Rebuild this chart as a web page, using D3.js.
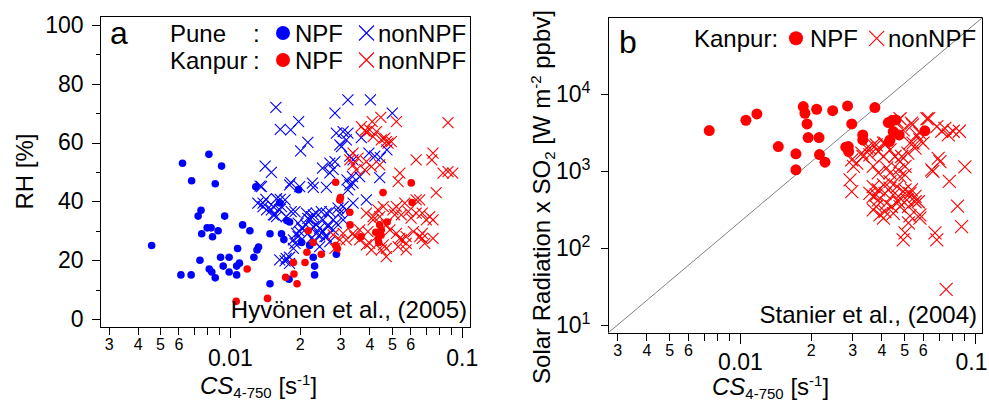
<!DOCTYPE html>
<html lang="en">
<head>
<meta charset="UTF-8">
<script src="https://cdn.jsdelivr.net/npm/d3@7"></script>
<style>
    body { margin: 0; background: #fff; }
    svg text { font-family: "Liberation Sans", Arial, sans-serif; fill: #000; }
    .axis line { stroke: #000; shape-rendering: crispEdges; }
    .axis path { display: none; }
    .frame { fill: none; stroke: #000; shape-rendering: crispEdges; }
</style>
</head>
<body>
<svg id="chart" width="989" height="403"></svg>
<script>
// ---- data: [CS (s-1), value] ----
// panel a, Pune
var puneNPF = [[0.0046,25],[0.00615,15],[0.00681,15],[0.00625,53],[0.00684,47],[0.00812,56],[0.00921,52],[0.00865,46],
    [0.0073,35],[0.00751,37],[0.00756,29],[0.00743,20],[0.00798,31],[0.0083,31],[0.00842,28],[0.0089,30],[0.0095,35],
    [0.00815,17],[0.00836,16],[0.00865,14],[0.00912,21],[0.00936,18],[0.00993,21],[0.00993,16],[0.0107,18],[0.011,19],
    [0.0108,24],[0.0107,15],[0.01135,32],[0.0122,30],[0.0127,21],[0.0131,23.5],[0.0133,24.5],[0.01294,45],[0.0149,29],
    [0.0149,12],[0.0164,39.5],[0.0167,29],[0.0171,27],[0.0176,33.5],[0.0181,33],[0.018,13.5],[0.0198,44],[0.0204,26],
    [0.0229,21],[0.0232,18],[0.0232,15],[0.0288,22],[0.0221,25]];
var puneNonNPF = [[0.0158,72],[0.0165,64.5],[0.0183,64.3],[0.0198,67.1],[0.0202,57.2],[0.0217,60.1],[0.0142,52],[0.0151,49.9],
    [0.0137,45],[0.0183,46.4],[0.0229,44.8],[0.0261,44.8],[0.0251,51.3],[0.027,53],[0.0279,50.9],[0.0284,70],[0.0323,74.5],
    [0.0404,74.5],[0.0502,70],[0.0323,63.2],[0.0318,60.9],[0.0303,58.6],[0.0329,55.4],[0.0369,61.7],[0.0398,56.4],
    [0.0422,55.4],[0.0446,54.9],[0.0476,57.5],[0.0443,48.1],[0.0338,48.4],[0.032,47.3],[0.0329,45.6],[0.0323,43.9],
    [0.0388,40.5],[0.0143,40.7],[0.0159,40.9],[0.0165,40.7],[0.0139,39.4],[0.0151,37.1],[0.0156,35.4],[0.0167,38.2],
    [0.0173,40.5],[0.0173,19.8],[0.0181,21],[0.0188,26.9],[0.0194,29.1],[0.0204,30.9],[0.0213,32],[0.0221,33.7],
    [0.0229,35.4],[0.0236,36],[0.0217,29.1],[0.0225,27.4],[0.0236,29.1],[0.0244,30.9],[0.0252,29.7],[0.0257,28],
    [0.0265,32],[0.0279,33.7],[0.0288,32.6],[0.0298,36],[0.0308,38.2],[0.0318,37.1],[0.034,39.4],[0.0244,24.6],
    [0.0232,26.3],[0.0279,30.3],[0.0181,45.6],[0.0227,46.2],[0.027,49.7],[0.034,46.2],[0.0144,37.1],[0.0154,38.2],
    [0.0164,37.1],[0.0154,35.4],[0.0191,36.5],[0.0214,36],[0.0225,34.8],[0.0261,36],[0.0252,33.7],[0.0236,32],
    [0.0197,32.6],[0.02,29.7],[0.0175,20.6],[0.0181,18.9],[0.027,26.3],[0.0308,33.7],[0.0135,45.2],[0.0132,39.4],
    [0.0139,38.2],[0.0159,34.8],[0.0175,34.8],[0.0191,25.7],[0.0188,24],[0.0197,28],[0.0288,63.2],[0.0308,63.7],
    [0.0298,59.2],[0.0284,53.5],[0.034,54.1],[0.0363,48.4],[0.02,45],[0.0184,36.5],[0.0217,34.2],[0.0248,36.5],
    [0.027,36.5],[0.0293,37.7],[0.0229,31.4],[0.0265,31.4],[0.0244,28.6],[0.0261,28],[0.0164,20.1]];
// panel a, Kanpur
var kanpurNPF_RH = [[0.01188,17],[0.01065,6],[0.01454,7],[0.0174,14.2],[0.0188,19.2],[0.0189,15.3],[0.0195,12],[0.0218,30],
    [0.0215,22.7],[0.0211,19.2],[0.0229,26],[0.0248,22],[0.0286,25],[0.0291,24],[0.0298,40.5],[0.0329,36.3],[0.033,32],
    [0.0426,29.5],[0.0436,27.2],[0.045,30.3],[0.0477,33],[0.0611,39.6],[0.0286,46.5],[0.03,41.3],[0.0458,43],
    [0.0606,46.3],[0.0449,28.5],[0.0443,32],[0.0368,28],[0.0439,26]];
var kanpurNonNPF_RH = [[0.0411,67.1],[0.0448,68.6],[0.0523,67.1],[0.0873,66.8],[0.0382,64],[0.0401,64.3],[0.0415,62],
    [0.0429,63.7],[0.0466,61.5],[0.0481,59.8],[0.0497,60.3],[0.0369,65.4],[0.0388,63.7],[0.045,60.9],[0.0473,60.3],
    [0.034,56.4],[0.0357,54.7],[0.0388,53.5],[0.034,52.4],[0.0329,54.1],[0.0382,50.7],[0.0408,51.8],[0.0443,52.4],
    [0.0351,50.7],[0.0541,49.6],[0.0532,46.7],[0.0636,54.1],[0.0752,56.4],[0.0743,54.1],[0.0831,49.6],[0.0873,50.1],
    [0.0915,49.6],[0.0776,43],[0.0659,40.5],[0.0704,33.7],[0.0523,38.2],[0.0549,35.4],[0.0588,36.5],[0.0605,34.3],
    [0.0636,36],[0.0388,36],[0.0415,34.8],[0.0435,37.1],[0.0308,29.1],[0.0318,26.9],[0.0346,28],[0.0363,30.3],
    [0.0394,29.7],[0.049,30.3],[0.0523,29.1],[0.0549,26.9],[0.0576,28],[0.0619,29.7],[0.0659,28],[0.0693,25.7],
    [0.0401,25.7],[0.0459,25.2],[0.0473,24],[0.034,29.1],[0.0415,33.7],[0.0443,34.8],[0.0473,32],[0.0541,27.4],
    [0.0576,25.7],[0.0568,39.4],[0.0636,40.5],[0.0676,36],[0.0728,34.8],[0.0752,33.7],[0.0676,29.1],[0.0473,21.2],
    [0.045,23.5],[0.0408,23.5],[0.0363,26.9],[0.0576,23.5],[0.0532,24.6],[0.0752,27.4],[0.0676,27.4],[0.0388,25.2],
    [0.0514,35.4],[0.0505,37.1],[0.0459,38.2],[0.0298,26.9],[0.0279,28.6],[0.0284,24]];
// panel b, Kanpur: solar radiation x SO2 (W m-2 ppbv)
var kanpurNPF_SR = [[0.0074,3370],[0.0106,4590],[0.0118,5550],[0.01456,2090],[0.0173,1680],[0.0173,1040],[0.0186,6900],
    [0.0189,5660],[0.0193,4110],[0.0195,2730],[0.0212,6380],[0.0217,2730],[0.0218,1640],[0.023,1310],[0.0248,6120],
    [0.0287,7050],[0.0299,4110],[0.0282,2050],[0.0289,2090],[0.029,1800],[0.0333,2960],[0.0333,2550],[0.0375,6700],
    [0.0428,4280],[0.0461,4640],[0.0449,3270],[0.0476,2960],[0.0432,2420],[0.0612,3340],[0.0444,4550],[0.0435,2550]];
var kanpurNonNPF_SR = [[0.048,4800],[0.0495,3440],[0.0542,3990],[0.0583,3120],[0.0625,4800],[0.0688,3800],[0.0722,3300],
    [0.077,2960],[0.0808,3300],[0.0858,3300],[0.0529,2310],[0.0556,1990],[0.0488,1550],[0.0518,1710],[0.071,1330],
    [0.0662,990],[0.0778,735],[0.0906,1140],[0.0408,2310],[0.038,2200],[0.0357,1990],[0.0334,1550],[0.0314,1270],
    [0.0299,1400],[0.0435,1890],[0.0457,1550],[0.0408,1550],[0.0369,1150],[0.0388,950],[0.0421,1100],[0.0435,950],
    [0.0472,1040],[0.0504,1150],[0.0294,771],[0.0299,540],[0.0357,515],[0.038,492],[0.0408,664],[0.0435,730],
    [0.0466,630],[0.0495,545],[0.0529,515],[0.033,1720],[0.0346,1990],[0.0369,2200],[0.0304,1150],[0.0357,1630],
    [0.0388,1800],[0.0414,2310],[0.048,1330],[0.048,850],[0.0504,896],[0.0466,4400],[0.0537,4200],[0.0565,2960],
    [0.0583,2550],[0.0545,2310],[0.0601,2310],[0.0635,4830],[0.0745,3600],[0.0697,1470],[0.0655,1040],[0.0843,350],
    [0.0369,630],[0.0388,572],[0.0369,470],[0.0388,424],[0.0414,515],[0.0435,600],[0.0449,492],[0.048,445],
    [0.0504,572],[0.0513,424],[0.0537,572],[0.0556,470],[0.0574,400],[0.0521,345],[0.048,345],[0.0421,385],
    [0.0369,314],[0.0394,270],[0.0414,297],[0.0449,282],[0.0442,345],[0.0529,263],[0.0583,270],[0.038,345],
    [0.0408,245],[0.0472,400],[0.0556,400],[0.0504,158],[0.0495,128],[0.0521,212],[0.0583,245],[0.0676,158],
    [0.0688,128],[0.0877,190],[0.0754,29]];

// ticks
var csMinorTicks = [0.003, 0.004, 0.005, 0.006, 0.007, 0.008, 0.009, 0.02, 0.03, 0.04, 0.05, 0.06, 0.07, 0.08, 0.09];
var csLabelled = [0.003, 0.004, 0.005, 0.006, 0.02, 0.03, 0.04, 0.05, 0.06];
var csMajorTicks = [0.01, 0.1];
var rhTicks = [0, 20, 40, 60, 80, 100];
var rhMinorTicks = [10, 30, 50, 70, 90];
var srTicks = [10, 100, 1000, 10000];
// reference line in panel b
var refLineCS = [0.00275, 0.108];
var refLineSR = [7.9, 1.0e5];

var svg = d3.select("#chart");

// scales
var xA = d3.scaleLog().domain([0.002754, 0.1086]).range([100, 470]);
var yA = d3.scaleLinear().domain([-2.72, 103.06]).range([327, 16]);
var xB = d3.scaleLog().domain([0.002744, 0.1082]).range([608, 983]);
var yB = d3.scaleLog().domain([7.87, 1.009e5]).range([333, 17]);

function minorLabel(v) {
    var hit = csLabelled.some(function(t) { return Math.abs(t - v) < 1e-9; });
    if (!hit) return "";
    return String(Math.round(v / Math.pow(10, Math.floor(Math.log10(v) + 1e-9))));
}

// x axis (log CS) under a panel
function drawCSAxis(x, y0, lastShift, pad) {
    var gMinor = svg.append("g").attr("class", "axis")
        .attr("transform", "translate(0," + y0 + ")")
        .call(d3.axisBottom(x).tickValues(csMinorTicks).tickSize(7).tickPadding(4).tickFormat(minorLabel));
    gMinor.selectAll("text").style("font-size", "16px");
    var gMajor = svg.append("g").attr("class", "axis")
        .attr("transform", "translate(0," + y0 + ")")
        .call(d3.axisBottom(x).tickValues(csMajorTicks).tickSize(10).tickPadding(pad).tickFormat(function(d) { return String(d); }));
    gMajor.selectAll("text").style("font-size", "23px")
        .attr("dx", function(d) { return d === 0.1 ? lastShift : 0; });
}

// x title with italic CS, subscript and superscript
function drawCSTitle(xPos, yPos) {
    var t = svg.append("text").attr("x", xPos).attr("y", yPos).style("font-size", "24px");
    t.append("tspan").style("font-style", "italic").text("CS");
    t.append("tspan").style("font-size", "15px").attr("dy", 4).text("4-750");
    t.append("tspan").attr("dy", -4).text(" [s");
    t.append("tspan").style("font-size", "15px").attr("dy", -9).text("-1");
    t.append("tspan").attr("dy", 9).text("]");
}

function crossPath(h) {
    return "M" + (-h) + "," + (-h) + "L" + h + "," + h + "M" + (-h) + "," + h + "L" + h + "," + (-h);
}

function drawCrosses(data, x, y, color, h) {
    svg.append("g").selectAll("path")
        .data(data).enter().append("path")
        .attr("d", crossPath(h))
        .attr("transform", function(d) { return "translate(" + x(d[0]) + "," + y(d[1]) + ")"; })
        .attr("fill", "none")
        .attr("stroke", color)
        .attr("stroke-width", 1.1);
}

function drawDots(data, x, y, color, r) {
    svg.append("g").selectAll("circle")
        .data(data).enter().append("circle")
        .attr("cx", function(d) { return x(d[0]); })
        .attr("cy", function(d) { return y(d[1]); })
        .attr("r", r)
        .attr("fill", color);
}

// ================= panel a =================
svg.append("rect").attr("class", "frame")
    .attr("x", 100.5).attr("y", 16.5).attr("width", 370).attr("height", 311);

var gyA = svg.append("g").attr("class", "axis").attr("transform", "translate(100.5,0)")
    .call(d3.axisLeft(yA).tickValues(rhTicks).tickSize(9).tickPadding(8));
gyA.selectAll("text").style("font-size", "23px");
svg.append("g").attr("class", "axis").attr("transform", "translate(100.5,0)")
    .call(d3.axisLeft(yA).tickValues(rhMinorTicks).tickSize(5).tickFormat(""));

drawCSAxis(xA, 327.5, 0, 12);
drawCSTitle(200, 394);

svg.append("text").attr("transform", "translate(33," + ((16 + 327) / 2) + ") rotate(-90)")
    .attr("text-anchor", "middle").style("font-size", "24px").text("RH [%]");

drawCrosses(puneNonNPF, xA, yA, "#0000ff", 5.5);
drawDots(puneNPF, xA, yA, "#0000ff", 3.8);
drawCrosses(kanpurNonNPF_RH, xA, yA, "#ff0000", 5.5);
drawDots(kanpurNPF_RH, xA, yA, "#ff0000", 3.8);

// panel a labels and legend
svg.append("text").attr("x", 110).attr("y", 44).style("font-size", "32px").text("a");
svg.append("text").attr("x", 467).attr("y", 318).attr("text-anchor", "end")
    .style("font-size", "24px").text("Hyvönen et al., (2005)");

var legA = [
    { site: "Pune", color: "#0000ff", y: 33 },
    { site: "Kanpur", color: "#ff0000", y: 60 }
];
legA.forEach(function(l) {
    svg.append("text").attr("x", 170).attr("y", l.y + 8.5).style("font-size", "24px").text(l.site);
    svg.append("text").attr("x", 253).attr("y", l.y + 8.5).style("font-size", "24px").text(":");
    svg.append("circle").attr("cx", 283).attr("cy", l.y).attr("r", 7).attr("fill", l.color);
    svg.append("text").attr("x", 295).attr("y", l.y + 8.5).style("font-size", "24px").text("NPF");
    svg.append("path").attr("d", crossPath(7.5)).attr("transform", "translate(366.5," + l.y + ")")
        .attr("fill", "none").attr("stroke", l.color).attr("stroke-width", 1.1);
    svg.append("text").attr("x", 378).attr("y", l.y + 8.5).style("font-size", "24px").text("nonNPF");
});

// ================= panel b =================
svg.append("rect").attr("class", "frame")
    .attr("x", 608.5).attr("y", 17.5).attr("width", 374).attr("height", 316);

var gyB = svg.append("g").attr("class", "axis").attr("transform", "translate(608.5,0)")
    .call(d3.axisLeft(yB).tickValues(srTicks).tickSize(8).tickPadding(10).tickFormat(""));
gyB.selectAll(".tick text").each(function(d) {
    var t = d3.select(this).style("font-size", "23px").attr("dy", "0.32em");
    t.append("tspan").text("10");
    t.append("tspan").style("font-size", "16px").attr("dy", -9).text(Math.round(Math.log10(d)));
});

drawCSAxis(xB, 333.5, -4, 10);
drawCSTitle(712, 395);

var yTitleB = svg.append("text").attr("transform", "translate(550,197) rotate(-90)")
    .attr("text-anchor", "middle").style("font-size", "24px");
yTitleB.append("tspan").text("Solar Radiation x SO");
yTitleB.append("tspan").style("font-size", "15px").attr("dy", 5).text("2");
yTitleB.append("tspan").attr("dy", -5).text(" [W m");
yTitleB.append("tspan").style("font-size", "15px").attr("dy", -9).text("-2");
yTitleB.append("tspan").attr("dy", 9).text(" ppbv]");

svg.append("line")
    .attr("x1", xB(refLineCS[0])).attr("y1", yB(refLineSR[0]))
    .attr("x2", xB(refLineCS[1])).attr("y2", yB(refLineSR[1]))
    .attr("stroke", "#808080").attr("stroke-width", 1);

drawCrosses(kanpurNonNPF_SR, xB, yB, "#ff0000", 6.5);
drawDots(kanpurNPF_SR, xB, yB, "#ff0000", 5.5);

svg.append("text").attr("x", 619).attr("y", 53).style("font-size", "32px").text("b");
svg.append("text").attr("x", 977).attr("y", 323).attr("text-anchor", "end")
    .style("font-size", "24px").text("Stanier et al., (2004)");

svg.append("text").attr("x", 694).attr("y", 46.5).style("font-size", "24px").text("Kanpur:");
svg.append("circle").attr("cx", 796).attr("cy", 38.3).attr("r", 7).attr("fill", "#ff0000");
svg.append("text").attr("x", 810).attr("y", 46.5).style("font-size", "24px").text("NPF");
svg.append("path").attr("d", crossPath(7.5)).attr("transform", "translate(876.7,38.3)")
    .attr("fill", "none").attr("stroke", "#ff0000").attr("stroke-width", 1.1);
svg.append("text").attr("x", 888).attr("y", 46.5).style("font-size", "24px").text("nonNPF");
</script>
</body>
</html>
